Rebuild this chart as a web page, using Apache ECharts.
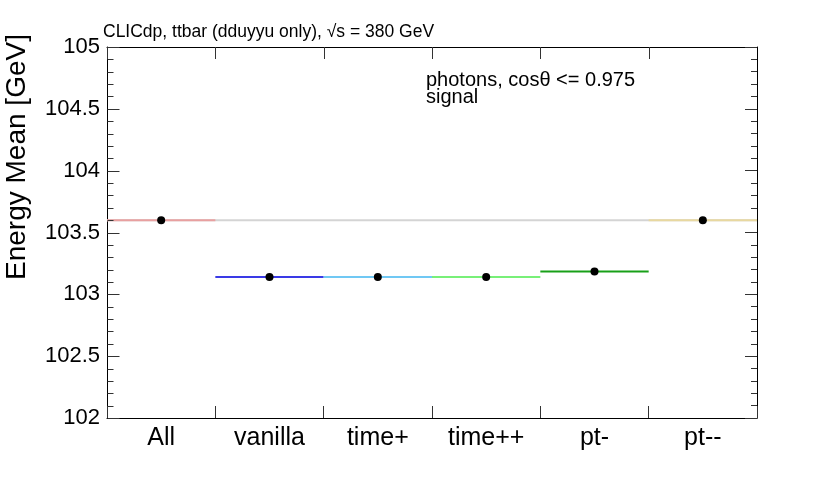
<!DOCTYPE html>
<html>
<head>
<meta charset="utf-8">
<script src="https://cdn.jsdelivr.net/npm/echarts@6/dist/echarts.min.js"></script>
<style>html,body{margin:0;padding:0;background:#fff;}#c{width:830px;height:482px;}</style>
</head>
<body>
<div id="c"></div>
<script>
var categories = ['All', 'vanilla', 'time+', 'time++', 'pt-', 'pt--'];
var energyMean = [103.60, 103.14, 103.14, 103.14, 103.185, 103.60];
var segmentColors = ['#e8a0a0', '#3a3ae6', '#70c8f4', '#78f078', '#18a018', '#e8d8a0'];
var referenceValue = 103.60;
var yTickValues = [102, 102.5, 103, 103.5, 104, 104.5, 105];
var yMin = 102, yMax = 105, yStep = 0.5;

var FONT = 'Liberation Sans, Arial, sans-serif';
var TICK = '#333';
var chart = echarts.init(document.getElementById('c'));

var segData = categories.map(function (c, i) { return [i, energyMean[i], i]; });
var ptData = categories.map(function (c, i) { return [i, energyMean[i]]; });
var leftTickData = yTickValues.map(function (v, i) { return [0, v, i]; });
var topTickData = categories.map(function (c, i) { return [i, yMax]; });

function crisp(v) { return Math.round(v) + 0.5; }

var gridBox = {left: 107, right: 73, top: 47, bottom: 64};

chart.setOption({
  animation: false,
  backgroundColor: '#fff',
  grid: [Object.assign({}, gridBox), Object.assign({}, gridBox), Object.assign({}, gridBox), Object.assign({}, gridBox)],
  xAxis: [
    {type: 'category', data: categories, position: 'bottom', boundaryGap: true, gridIndex: 0,
      axisLine: {show: true, onZero: false, lineStyle: {color: '#000', width: 1}},
      axisTick: {show: true, inside: true, length: 12, alignWithLabel: false, lineStyle: {color: TICK}},
      axisLabel: {show: true, color: '#000', fontFamily: FONT, fontSize: 25, margin: 8},
      splitLine: {show: false}},
    {type: 'category', data: categories, position: 'top', boundaryGap: true, gridIndex: 1,
      axisLine: {show: true, onZero: false, lineStyle: {color: '#000', width: 1}},
      axisTick: {show: false}, axisLabel: {show: false}, splitLine: {show: false}},
    {type: 'category', data: categories, boundaryGap: true, gridIndex: 2, show: false},
    {type: 'category', data: categories, boundaryGap: true, gridIndex: 3, show: false}
  ],
  yAxis: [
    {type: 'value', position: 'left', min: yMin, max: yMax, interval: yStep, gridIndex: 0,
      axisLine: {show: true, onZero: false, lineStyle: {color: '#000', width: 1}},
      axisTick: {show: false}, axisLabel: {show: true, color: '#000', fontFamily: FONT, fontSize: 22, margin: 7},
      splitLine: {show: false}},
    {type: 'value', position: 'right', min: yMin, max: yMax, interval: yStep, gridIndex: 1,
      axisLine: {show: true, onZero: false, lineStyle: {color: '#000', width: 1}},
      axisTick: {show: true, inside: true, length: 12, lineStyle: {color: TICK}},
      minorTick: {show: true, splitNumber: 5, length: 6, lineStyle: {color: TICK}},
      axisLabel: {show: false}, splitLine: {show: false}, minorSplitLine: {show: false}},
    {type: 'value', min: yMin, max: yMax, gridIndex: 2, show: false, splitLine: {show: false}},
    {type: 'value', min: yMin, max: yMax, gridIndex: 3, show: false, splitLine: {show: false}}
  ],
  graphic: [
    {type: 'text', left: 103, top: 23, style: {text: 'CLICdp, ttbar (dduyyu only), \u221As = 380 GeV', font: '17.5px ' + FONT, fill: '#000'}},
    {type: 'text', left: 426, top: 70, style: {text: 'photons, cos\u03b8 <= 0.975', font: '20px ' + FONT, fill: '#000'}},
    {type: 'text', left: 426, top: 87, style: {text: 'signal', font: '20px ' + FONT, fill: '#000'}},
    {type: 'text', x: 3, y: 157, rotation: Math.PI / 2, style: {text: 'Energy Mean [GeV]', font: '28px ' + FONT, fill: '#000', align: 'center', verticalAlign: 'top'}}
  ],
  series: [
    {
      // left-frame ticks (major + minor), positioned by the value scale
      type: 'custom', z: 4, xAxisIndex: 2, yAxisIndex: 2, data: leftTickData, silent: true,
      renderItem: function (params, api) {
        var cs = params.coordSys;
        var v = api.value(1);
        var idx = api.value(2);
        var x0 = crisp(cs.x);
        var children = [];
        var y = crisp(api.coord([0, v])[1]);
        children.push({type: 'line', shape: {x1: x0, y1: y, x2: x0 + 12, y2: y}, style: {stroke: TICK, lineWidth: 1}});
        if (idx < yTickValues.length - 1) {
          var next = yTickValues[idx + 1];
          for (var k = 1; k < 5; k++) {
            var ym = crisp(api.coord([0, v + (next - v) * k / 5])[1]);
            children.push({type: 'line', shape: {x1: x0, y1: ym, x2: x0 + 6, y2: ym}, style: {stroke: TICK, lineWidth: 1}});
          }
        }
        return {type: 'group', children: children};
      }
    },
    {
      // top-frame ticks at the category boundaries
      type: 'custom', z: 4, xAxisIndex: 2, yAxisIndex: 2, data: topTickData, silent: true,
      renderItem: function (params, api) {
        var cs = params.coordSys;
        var w = api.size([1, 0])[0];
        var x = crisp(api.coord([api.value(0), api.value(1)])[0] - w / 2);
        var y0 = cs.y;
        return {type: 'line', shape: {x1: x, y1: y0, x2: x, y2: y0 + 12}, style: {stroke: TICK, lineWidth: 1}};
      }
    },
    {
      type: 'custom', z: 1, xAxisIndex: 2, yAxisIndex: 2, data: [[0, referenceValue]], silent: true,
      renderItem: function (params, api) {
        var p = api.coord([api.value(0), api.value(1)]);
        var cs = params.coordSys;
        return {
          type: 'line',
          shape: {x1: cs.x, y1: p[1], x2: cs.x + cs.width, y2: p[1]},
          style: {stroke: '#d4d4d4', lineWidth: 2}
        };
      }
    },
    {
      type: 'custom', z: 2, data: segData, xAxisIndex: 2, yAxisIndex: 2,
      renderItem: function (params, api) {
        var p = api.coord([api.value(0), api.value(1)]);
        var w = api.size([1, 0])[0];
        return {
          type: 'line',
          shape: {x1: p[0] - w / 2, y1: p[1], x2: p[0] + w / 2, y2: p[1]},
          style: {stroke: segmentColors[api.value(2)], lineWidth: 2}
        };
      }
    },
    {
      type: 'scatter', z: 3, data: ptData, xAxisIndex: 2, yAxisIndex: 2, symbol: 'circle', symbolSize: 8,
      itemStyle: {color: '#000', opacity: 1}
    }
  ]
});
</script>
</body>
</html>
